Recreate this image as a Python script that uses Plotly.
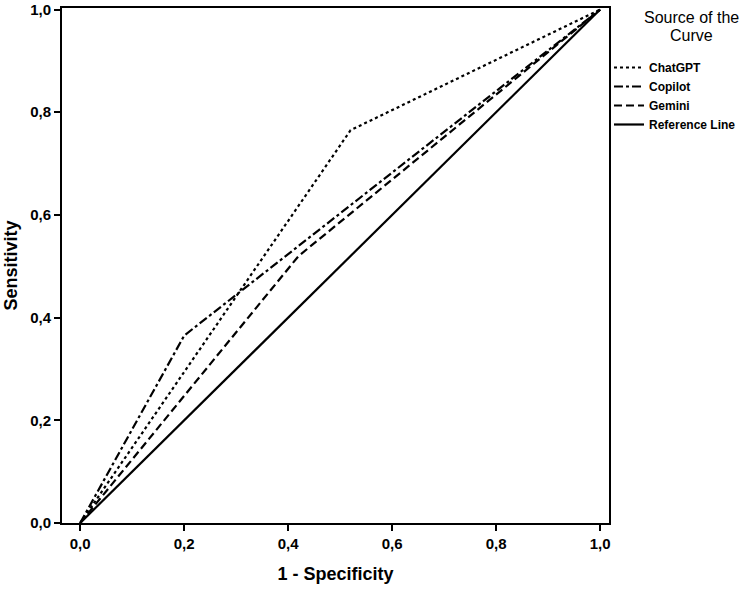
import plotly.graph_objects as go

# ROC curve data (1 - Specificity, Sensitivity)
chatgpt_x = [0.0, 0.52, 1.0]
chatgpt_y = [0.0, 0.765, 1.0]
copilot_x = [0.0, 0.2, 1.0]
copilot_y = [0.0, 0.365, 1.0]
gemini_x = [0.0, 0.42, 1.0]
gemini_y = [0.0, 0.52, 1.0]
ref_x = [0.0, 1.0]
ref_y = [0.0, 1.0]

tick_vals = [0.0, 0.2, 0.4, 0.6, 0.8, 1.0]
tick_text = ["0,0", "0,2", "0,4", "0,6", "0,8", "1,0"]

legend_title_lines = ["Source of the", "Curve"]

series = [
    ("ChatGPT", chatgpt_x, chatgpt_y, "3px,3px"),
    ("Copilot", copilot_x, copilot_y, "9px,3px,3px,3px"),
    ("Gemini", gemini_x, gemini_y, "8px,4px"),
    ("Reference Line", ref_x, ref_y, "solid"),
]

fig = go.Figure()
for name, xs, ys, dash in series:
    fig.add_trace(go.Scatter(
        x=xs, y=ys, mode="lines", name=name,
        line=dict(color="black", width=2.2, dash=dash),
    ))

font_family = "Liberation Sans, Arial, sans-serif"

# plot area: top at 8 px, bottom at 523 px (height 515)
title_annots = [
    dict(text=t, xref="paper", yref="paper", x=1.15, y=yy,
         xanchor="center", yanchor="middle", showarrow=False,
         font=dict(size=16, family=font_family, color="black"))
    for t, yy in zip(legend_title_lines, [1 - (17 - 8) / 515, 1 - (35 - 8) / 515])
]

fig.update_layout(
    width=749, height=590,
    margin=dict(l=62, r=140, t=8, b=67, autoexpand=False),
    paper_bgcolor="white", plot_bgcolor="white",
    font=dict(family=font_family, color="black"),
    showlegend=True,
    legend=dict(
        x=1.0, xanchor="left", y=1 - (53 - 8) / 515, yanchor="top",
        font=dict(size=12, family=font_family, color="black", weight="bold"),
        itemwidth=30, tracegroupgap=0,
        bgcolor="rgba(0,0,0,0)", borderwidth=0,
    ),
    annotations=title_annots,
    xaxis=dict(
        range=[-0.035, 1.017], automargin=False,
        tickvals=tick_vals, ticktext=tick_text,
        ticks="outside", ticklen=6, tickwidth=2, tickcolor="black",
        showline=True, mirror=True, linecolor="black", linewidth=2,
        showgrid=False, zeroline=False, ticklabeloverflow="allow",
        tickfont=dict(size=15, family=font_family, weight="bold"),
        title=dict(text="1 - Specificity", standoff=16,
                   font=dict(size=18, family=font_family, weight="bold")),
    ),
    yaxis=dict(
        range=[0, 1.003], automargin=False,
        tickvals=tick_vals, ticktext=tick_text,
        ticks="outside", ticklen=6, tickwidth=2, tickcolor="black",
        showline=True, mirror=True, linecolor="black", linewidth=2,
        showgrid=False, zeroline=False, ticklabeloverflow="allow",
        tickfont=dict(size=15, family=font_family, weight="bold"),
        title=dict(text="Sensitivity", standoff=8,
                   font=dict(size=18, family=font_family, weight="bold")),
    ),
)

fig.write_html("out.html")
